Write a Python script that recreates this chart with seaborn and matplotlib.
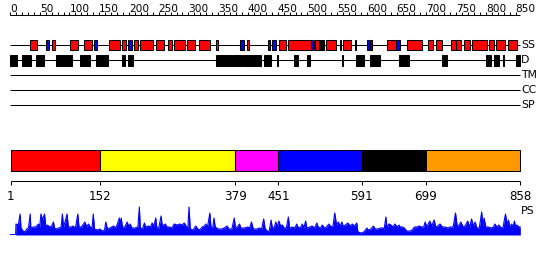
import matplotlib
matplotlib.use("Agg")
import matplotlib.pyplot as plt
import seaborn as sns
import pandas as pd

# ---------------- data ----------------
seq_len = 858
ruler_ticks = list(range(0, 851, 10))
ruler_labels = list(range(0, 851, 50))

track_names = ["SS", "D", "TM", "CC", "SP"]

ss_helix = [(34, 46), (71, 76), (101, 114), (125, 138), (167, 185), (189, 195),
            (209, 216), (219, 240), (246, 259), (265, 272), (276, 294), (298, 311),
            (317, 336), (347, 350), (398, 402), (453, 464), (467, 506), (513, 520),
            (531, 548), (554, 557), (560, 574), (633, 649), (668, 693), (703, 712),
            (717, 727), (742, 749), (749, 759), (764, 774), (777, 802), (806, 813),
            (817, 832), (837, 852)]
ss_strand = [(60, 65), (142, 147), (198, 205), (386, 394), (433, 437), (440, 447),
             (506, 511), (600, 603), (606, 609), (649, 656)]
ss_other = [(520, 528), (580, 582)]

disorder = [(0, 12), (20, 36), (44, 57), (77, 104), (118, 135), (145, 165),
            (188, 190), (192, 194), (198, 206), (347, 371), (373, 390), (392, 422),
            (427, 439), (449, 451), (478, 485), (500, 502), (503, 505), (558, 560),
            (582, 595), (606, 622), (654, 670), (727, 729), (732, 734), (801, 809),
            (814, 822), (829, 831), (851, 858)]

domain_bounds = [1, 152, 379, 451, 591, 699, 858]
domain_colors = ["#FF0000", "#FFFF00", "#FF00FF", "#0000FF", "#000000", "#FF9900"]

ps_res = [0, 9.5, 10, 14, 17, 18.5, 22, 25, 28, 31, 34, 35, 39, 43, 48, 50, 52, 55, 58, 60,
          63, 67, 70, 73, 75, 78, 82, 86, 88, 90, 92, 96, 98, 103, 106, 110, 114, 116, 120,
          126, 129, 132, 135, 138, 140, 142, 147, 151, 155, 159, 161, 164, 168, 174, 178,
          184, 185, 187, 189, 193, 197, 200, 202, 205, 210, 215, 217.5, 219, 222.5, 226,
          228, 233, 236, 239, 242, 245, 247, 250, 254, 256, 261, 264, 268, 272, 276, 281,
          285, 289, 293, 297, 299, 301, 303, 308, 312, 316, 319, 323, 327, 329, 332, 336,
          338, 341, 343, 345, 350, 356, 360, 365, 368, 373, 377, 379, 382, 386, 388, 394,
          400, 403, 406, 409, 415, 419, 423, 426.5, 429, 433, 435.5, 439, 441, 444.5, 447,
          449.5, 452, 455, 458, 461, 464.5, 468, 470, 474.5, 479, 482, 485, 489, 491.5, 494,
          497, 499, 504, 508, 512, 516, 518, 522, 525, 528.5, 532, 536, 540, 543, 546, 549,
          552, 555, 558, 560, 564, 568, 572, 575.5, 579, 583, 585, 590, 595, 600, 602, 607,
          611, 614, 618, 623, 627, 629, 632, 634, 637, 640.5, 644, 647, 651, 654, 656, 660,
          663, 667, 672.5, 676, 680, 684, 688, 692, 695.5, 698, 700.5, 703, 706, 709, 713,
          716, 719, 723, 727, 731, 736, 740, 745, 749, 752, 755, 758, 762, 765, 769.5, 773,
          776, 779, 782, 785, 789, 793, 795, 797, 800, 804, 809, 813, 815, 819, 822, 825.5,
          829, 833, 836, 838, 840.5, 843.5, 846, 848, 850, 852, 856, 858]
ps_val = [0, 0, 11, 10, 21, 7, 4, 3, 6, 7, 21, 7, 8, 8, 11, 8, 21, 15, 21, 9,
          10, 8, 9, 13, 7, 6, 7, 8, 21, 8, 12, 21, 8, 8, 9, 7, 21, 8, 8,
          13, 8, 11, 8, 7, 21, 6, 5, 6, 4, 5, 13, 6, 7, 9, 7,
          17, 10, 17, 8, 8, 13, 8, 11, 7, 7, 8, 28, 7, 6, 12,
          8, 9, 8, 12, 9, 17, 7, 7, 19, 9, 11, 8, 8, 7, 11, 10,
          11, 10, 12, 8, 7, 28, 6, 5, 9, 6, 5, 8, 9, 11, 8, 22,
          7, 8, 17, 8, 6, 6, 7, 9, 6, 6, 17, 7, 8, 11, 7, 7,
          8, 7, 13, 6, 6, 7, 6, 16, 6, 4, 3, 15, 7, 8, 13,
          8, 14, 9, 10, 7, 7, 18, 7, 8, 7, 11, 7, 8, 11, 7,
          14, 7, 8, 9, 7, 12, 8, 7, 10, 7, 8, 11, 8, 9, 22, 10,
          13, 9, 13, 9, 10, 12, 9, 11, 9, 12, 3, 2, 3, 7, 5, 6,
          9, 6, 6, 7, 7, 6, 18, 7, 11, 10, 8, 11, 8, 10, 8, 8,
          7, 4, 4, 5, 8, 8, 9, 8, 8, 13, 8, 11, 14, 9, 15,
          8, 9, 11, 8, 8, 7, 8, 8, 22, 8, 10, 13, 8, 9, 14, 8,
          16, 9, 13, 7, 7, 23, 9, 17, 8, 8, 7, 8, 11, 8, 10, 7,
          8, 21, 10, 15, 8, 11, 8, 14, 8, 10, 8, 8]

# ---------------- layout ----------------
W, H = 550, 260
X0 = 10.0
KX = 0.5948
xlim = (-X0 / KX, (W - X0) / KX)

Y_RULER = 15
Y_TRACKS = [45, 60, 75, 90, 105]
BOX_H = 10.5
Y_DOM_TOP, Y_DOM_BOT = 150, 170.8
Y_DAX = 180.7
Y_PS_BASE, Y_PS_TOP = 235, 205
LW = 0.75

sns.set_theme(style="white")
plt.rcParams["font.family"] = ["DejaVu Sans"]

fig = plt.figure(figsize=(W / 100, H / 100), dpi=100)
fig.patch.set_facecolor("white")
ax = fig.add_axes([0, 0, 1, 1])
ax.set_xlim(*xlim)
ax.set_ylim(H, 0)
ax.axis("off")

# ruler
ax.hlines(Y_RULER, 0, seq_len, color="black", lw=LW)
ax.vlines(ruler_ticks, Y_RULER - 3.5, Y_RULER, color="black", lw=LW)
for r in ruler_labels:
    ax.text(r, Y_RULER - 3.3, str(r), ha="left", va="baseline", fontsize=7.6, color="black")

# track lines and labels
for name, y in zip(track_names, Y_TRACKS):
    ax.hlines(y, 0, seq_len, color="black", lw=LW, zorder=1)
    ax.text(seq_len + 1, y, name, ha="left", va="center", fontsize=7.8, color="black")


def boxes(segs, y, color, h=BOX_H):
    starts = [s for s, e in segs]
    widths = [e - s for s, e in segs]
    ax.barh([y] * len(segs), widths, left=starts, height=h, color=color,
            edgecolor="black", linewidth=LW, zorder=2)


boxes(ss_helix, Y_TRACKS[0], "#FF0000")
boxes(ss_strand, Y_TRACKS[0], "#0000FF")
boxes(ss_other, Y_TRACKS[0], "#000000")
boxes(disorder, Y_TRACKS[1], "#000000", h=11)

# domain bar
d_starts = domain_bounds[:-1]
d_widths = [b - a for a, b in zip(domain_bounds[:-1], domain_bounds[1:])]
ax.barh([(Y_DOM_TOP + Y_DOM_BOT) / 2] * len(d_starts), d_widths, left=d_starts,
        height=Y_DOM_BOT - Y_DOM_TOP, color=domain_colors, edgecolor="black",
        linewidth=LW, zorder=2)

# domain boundary axis
ax.hlines(Y_DAX, domain_bounds[0], domain_bounds[-1], color="black", lw=LW)
ax.vlines(domain_bounds, Y_DAX, Y_DAX + 4, color="black", lw=LW)
for b in domain_bounds:
    ax.text(b, Y_DAX + 15.5, str(b), ha="center", va="center", fontsize=8.6, color="black")

ax.text(seq_len + 1, 211, "PS", ha="left", va="center", fontsize=7.8, color="black")

# PS profile
ax_ps = fig.add_axes([0, (H - Y_PS_BASE) / H, 1, (Y_PS_BASE - Y_PS_TOP) / H])
ax_ps.set_xlim(*xlim)
ax_ps.set_ylim(0, 30)
ax_ps.axis("off")
ps_df = pd.DataFrame({"res": ps_res, "val": ps_val})
ax_ps.fill_between(ps_df["res"], 0, ps_df["val"], color="#0000FF", lw=0)
sns.lineplot(data=ps_df, x="res", y="val", ax=ax_ps, color="#0000FF", lw=0.8,
             estimator=None, sort=False)
ax_ps.hlines(0, 0, seq_len, color="#0000FF", lw=1.2)

fig.savefig("out.png", dpi=100)
